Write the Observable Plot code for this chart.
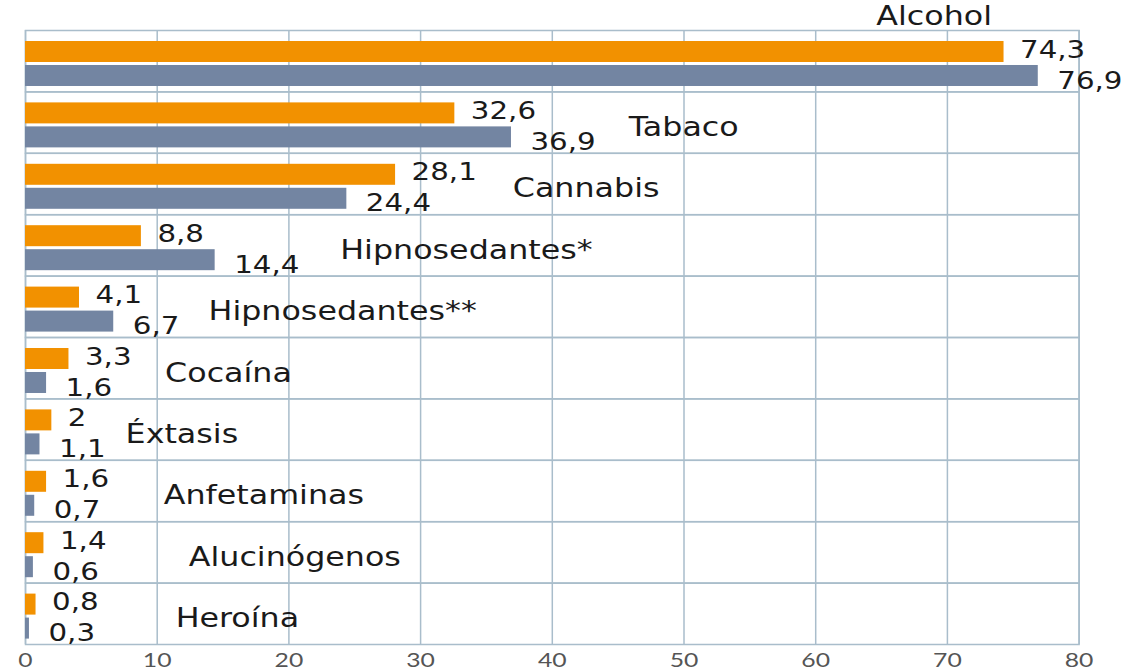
<!DOCTYPE html>
<html><head><meta charset="utf-8">
<script src="https://cdn.jsdelivr.net/npm/d3@7"></script>
<script src="https://cdn.jsdelivr.net/npm/@observablehq/plot@0.6"></script>
<style>body{margin:0;background:#fff}</style>
</head><body><div id="chart"></div>
<script>
const categories = ["Alcohol","Tabaco","Cannabis","Hipnosedantes*","Hipnosedantes**","Cocaína","Éxtasis","Anfetaminas","Alucinógenos","Heroína"];
const seriesOrange = [74.3, 32.6, 28.1, 8.8, 4.1, 3.3, 2, 1.6, 1.4, 0.8];
const seriesGray = [76.9, 36.9, 24.4, 14.4, 6.7, 1.6, 1.1, 0.7, 0.6, 0.3];
const labelAt = [64.6, 45.8, 37.0, 23.9, 13.9, 10.6, 7.6, 10.5, 12.4, 11.4];
const xTicks = [0, 10, 20, 30, 40, 50, 60, 70, 80];
const seriesNames = ["naranja", "gris"];

const ORANGE = "#F29100", GRAY = "#7385A2", GRID = "#A9BDCB", INK = "#1a1a1a";

const rows = categories.flatMap((c, i) => [
  {cat: c, serie: seriesNames[0], value: seriesOrange[i]},
  {cat: c, serie: seriesNames[1], value: seriesGray[i]}
]);
const catRows = categories.map((c, i) => ({
  cat: c, at: labelAt[i], top: labelAt[i] < Math.max(seriesOrange[i], seriesGray[i])
}));
const fmt = v => String(v).replace(".", ",");

const chart = Plot.plot({
  width: 1144, height: 670,
  marginTop: 30, marginBottom: 26, marginLeft: 25, marginRight: 65.4,
  style: {fontFamily: "DejaVu Sans", background: "#fff"},
  x: {domain: [0, 80]},
  y: {domain: seriesNames, paddingInner: 0.125, paddingOuter: 0.342, align: 0.67, axis: null, round: false},
  fy: {domain: categories, padding: 0, axis: null, round: false},
  color: {domain: seriesNames, range: [ORANGE, GRAY]},
  marks: [
    Plot.gridX(xTicks, {stroke: GRID, strokeOpacity: 1, strokeWidth: 1.5}),
    Plot.frame({stroke: GRID, strokeWidth: 1.5}),
    Plot.barX(rows, {fy: "cat", y: "serie", x: "value", fill: "serie"}),
    Plot.text(rows.filter(d => d.serie === seriesNames[0]), {
      fy: "cat", y: "serie", x: "value", text: d => fmt(d.value),
      textAnchor: "start", dx: 16, dy: -2, fontSize: 24, fill: INK
    }),
    Plot.text(rows.filter(d => d.serie === seriesNames[1]), {
      fy: "cat", y: "serie", x: "value", text: d => fmt(d.value),
      textAnchor: "start", dx: 19, dy: 5, fontSize: 24, fill: INK
    }),
    Plot.text(catRows.filter(d => !d.top), {
      fy: "cat", x: "at", text: "cat", frameAnchor: "middle",
      textAnchor: "start", dy: 5, fontSize: 26, fill: INK
    }),
    Plot.text(catRows.filter(d => d.top), {
      fy: "cat", x: "at", text: "cat", frameAnchor: "top", lineAnchor: "middle",
      textAnchor: "start", dy: -14, fontSize: 26, fill: INK
    }),
    Plot.axisX(xTicks, {tickSize: 0, tickPadding: 9, fontSize: 19, fill: "#555", label: null, fontFamily: "Lato"})
  ]
});
document.getElementById("chart").append(chart);

function stretch(sel, k) {
  chart.querySelectorAll(sel).forEach(t => {
    const len = t.getComputedTextLength();
    if (len > 0) {
      t.setAttribute("textLength", (len * k).toFixed(1));
      t.setAttribute("lengthAdjust", "spacingAndGlyphs");
    }
  });
}
stretch('g[aria-label="text"] text', 1.22);
stretch('g[aria-label="x-axis tick label"] text', 1.3);
</script>
</body></html>
